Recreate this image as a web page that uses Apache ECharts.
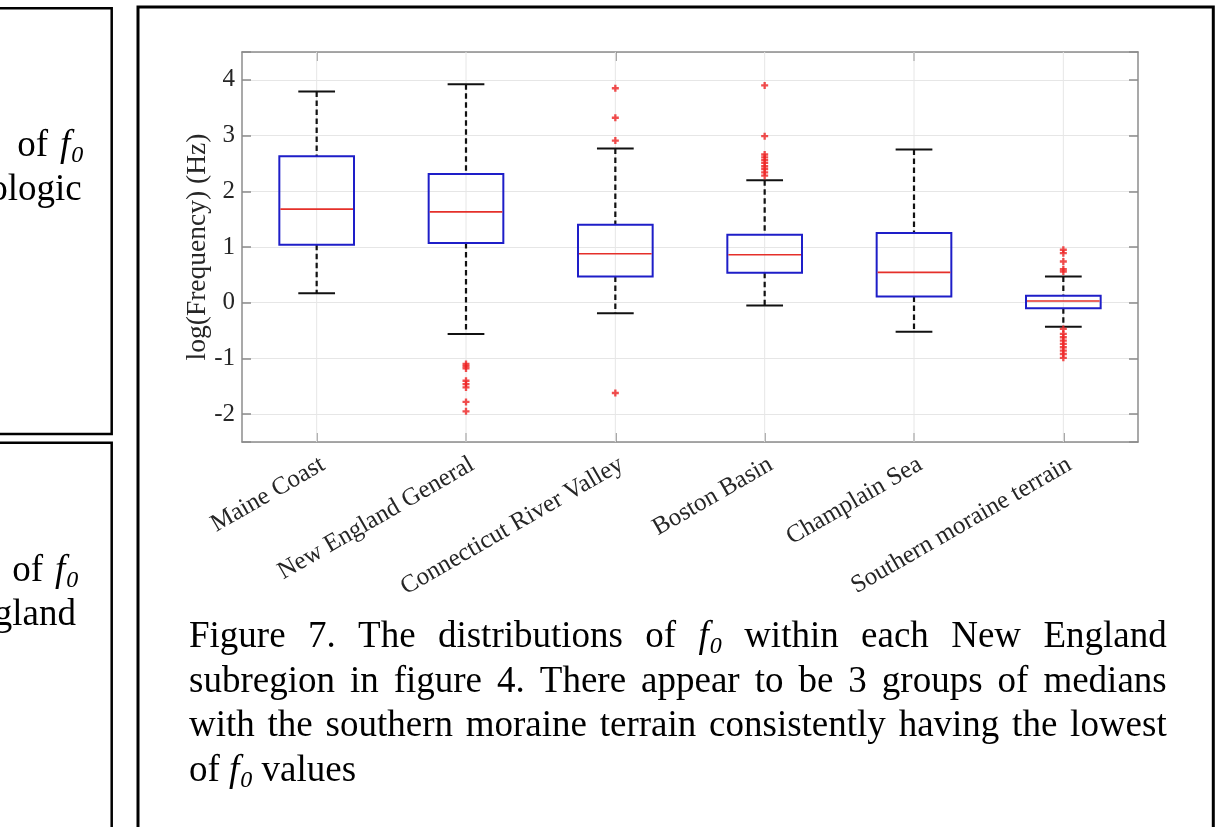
<!DOCTYPE html>
<html><head><meta charset="utf-8">
<script src="https://cdn.jsdelivr.net/npm/echarts@6/dist/echarts.min.js"></script>
<style>html,body{margin:0;padding:0;background:#fff;overflow:hidden}#c{width:1218px;height:827px}</style>
</head><body><div id="c"></div>
<script>
// ---------- data ----------
const categories = ['Maine Coast','New England General','Connecticut River Valley','Boston Basin','Champlain Sea','Southern moraine terrain'];
const lowerWhisker = [0.17, -0.56, -0.19, -0.05, -0.52, -0.43];
const q1          = [1.04, 1.07, 0.47, 0.54, 0.11, -0.10];
const medians     = [1.68, 1.63, 0.88, 0.86, 0.545, 0.03];
const q3          = [2.63, 2.31, 1.40, 1.22, 1.25, 0.125];
const upperWhisker= [3.79, 3.92, 2.77, 2.20, 2.75, 0.47];
const outliers = [
  [],
  [-1.10, -1.14, -1.18, -1.40, -1.46, -1.52, -1.78, -1.95],
  [3.85, 3.32, 2.91, -1.62],
  [3.90, 2.99, 2.66, 2.61, 2.56, 2.51, 2.45, 2.40, 2.34, 2.28],
  [],
  [0.95, 0.89, 0.74, 0.60, 0.56, -0.47, -0.56, -0.62, -0.68, -0.74, -0.80, -0.86, -0.92, -0.99]
];
const yMin = -2.5, yMax = 4.5;
const yAxisTitle = 'log(Frequency) (Hz)';
const captionLines = [
  'Figure 7. The distributions of {f0} within each New England',
  'subregion in figure 4. There appear to be 3 groups of medians',
  'with the southern moraine terrain consistently having the lowest',
  'of {f0} values'
];

// ---------- build ----------
const SERIF = '"Liberation Serif","Times New Roman",serif';
const boxData = categories.map((c, i) => [i, lowerWhisker[i], q1[i], medians[i], q3[i], upperWhisker[i]]);
const outlierData = [];
outliers.forEach((arr, i) => arr.forEach(v => outlierData.push([i, v])));

const ctx = document.createElement('canvas').getContext('2d');
function tw(t, size, italic) { ctx.font = (italic ? 'italic ' : '') + size + 'px "Liberation Serif"'; return ctx.measureText(t).width; }
const FS = 37, SUB = 24;
function tokenWidth(tok) { return tok === '{f0}' ? tw('f', FS, true) + 1 + tw('0', SUB, true) : tw(tok, FS, false); }
function tokenEls(tok, x, yc) {
  if (tok === '{f0}') {
    const fw = tw('f', FS, true);
    return [
      {type:'text', x: x, y: yc, style:{text:'f', fill:'#000', font:'italic ' + FS + 'px ' + SERIF, align:'left', verticalAlign:'middle'}},
      {type:'text', x: x + fw + 1, y: yc + 9, style:{text:'0', fill:'#000', font:'italic ' + SUB + 'px ' + SERIF, align:'left', verticalAlign:'middle'}}
    ];
  }
  return [{type:'text', x: x, y: yc, style:{text: tok, fill:'#000', font: FS + 'px ' + SERIF, align:'left', verticalAlign:'middle'}}];
}
const graphics = [];
// frames
graphics.push({type:'rect', shape:{x:-10, y:8.3, width:121.7, height:425.7}, style:{fill:'none', stroke:'#000', lineWidth:2.5}, z:0});
graphics.push({type:'rect', shape:{x:-10, y:442.7, width:121.7, height:500}, style:{fill:'none', stroke:'#000', lineWidth:2.5}, z:0});
graphics.push({type:'rect', shape:{x:138, y:7, width:1075.3, height:900}, style:{fill:'none', stroke:'#000', lineWidth:3}, z:0});
// caption
const capLeft = 189, capRight = 1166.7, capY0 = 637.7, capPitch = 44.5;
captionLines.forEach((line, li) => {
  const toks = line.split(' ');
  const widths = toks.map(tokenWidth);
  const total = widths.reduce((a, b) => a + b, 0);
  const justify = li < captionLines.length - 1;
  const gap = justify ? (capRight - capLeft - total) / (toks.length - 1) : tw(' ', FS, false);
  let x = capLeft;
  const yc = capY0 + li * capPitch;
  toks.forEach((t, k) => { tokenEls(t, x, yc).forEach(e => graphics.push(e)); x += widths[k] + gap; });
});
// left-column fragments (right aligned)
function rightLine(toks, rightX, yc, gap) {
  const widths = toks.map(tokenWidth);
  let x = rightX;
  for (let k = toks.length - 1; k >= 0; k--) {
    x -= widths[k];
    tokenEls(toks[k], x, yc).forEach(e => graphics.push(e));
    x -= gap;
  }
}
rightLine(['of', '{f0}'], 83.3, 146.7, 12);
rightLine(['ologic'], 81.7, 190.4, 12);
rightLine(['of', '{f0}'], 78.3, 571.7, 12);
rightLine(['gland'], 76, 615.4, 12);

const AX = '#8c8c8c', TXT = '#262626', GRID = '#e6e6e6';
const chart = echarts.init(document.getElementById('c'), null, {renderer:'canvas'});
chart.setOption({
  animation: false,
  backgroundColor: '#fff',
  graphic: graphics,
  grid: {left: 242, top: 52, width: 896, height: 390, containLabel: false},
  xAxis: [
    {type:'category', data: categories, position:'bottom', boundaryGap: true,
     axisLine:{show:true, onZero:false, lineStyle:{color:AX, width:1.5}},
     axisTick:{show:true, inside:true, alignWithLabel:true, length:9, lineStyle:{color:AX, width:1.5}},
     axisLabel:{show:true, interval:0, rotate:30, align:'right', verticalAlign:'top', margin:10,
                fontFamily:SERIF, fontSize:25, color:TXT, hideOverlap:false},
     splitLine:{show:false}},
    {type:'category', data: categories, position:'top', boundaryGap: true,
     axisLine:{show:true, onZero:false, lineStyle:{color:AX, width:1.5}},
     axisTick:{show:true, inside:true, alignWithLabel:true, length:9, lineStyle:{color:AX, width:1.5}},
     axisLabel:{show:false}, splitLine:{show:false}}
  ],
  yAxis: [
    {type:'value', min:yMin, max:yMax, minInterval:1, maxInterval:1, position:'left',
     name: yAxisTitle, nameLocation:'middle', nameRotate:90, nameGap:30, nameMoveOverlap:false,
     nameTextStyle:{fontFamily:SERIF, fontSize:27.5, color:TXT},
     axisLine:{show:true, onZero:false, lineStyle:{color:AX, width:1.5}},
     axisTick:{show:true, inside:true, length:9, lineStyle:{color:AX, width:1.5}},
     axisLabel:{show:true, margin:7, fontFamily:SERIF, fontSize:25, color:TXT,
                formatter: v => (Math.abs(v - Math.round(v)) < 1e-9 ? String(Math.round(v)) : '')},
     splitLine:{show:true, lineStyle:{color:GRID, width:1}}},
    {type:'value', min:yMin, max:yMax, minInterval:1, maxInterval:1, position:'right',
     axisLine:{show:true, onZero:false, lineStyle:{color:AX, width:1.5}},
     axisTick:{show:true, inside:true, length:9, lineStyle:{color:AX, width:1.5}},
     axisLabel:{show:false}, splitLine:{show:false}}
  ],
  series: [
    {type:'custom', xAxisIndex:0, yAxisIndex:0, z:3, data: boxData,
     encode:{x:0, y:[1,2,3,4,5]},
     renderItem: function (params, api) {
       const i = api.value(0);
       const x = api.coord([i, 0])[0];
       const band = api.size([1, 0])[0];
       const bw = band * 0.25, cw = band * 0.123;
       const cs = params.coordSys;
       const yLo = api.coord([i, api.value(1)])[1];
       const yQ1 = api.coord([i, api.value(2)])[1];
       const yMd = api.coord([i, api.value(3)])[1];
       const yQ3 = api.coord([i, api.value(4)])[1];
       const yUp = api.coord([i, api.value(5)])[1];
       const dash = {stroke:'#111', lineWidth:2.2, lineDash:[5.5, 3.5], fill:null};
       const solid = {stroke:'#111', lineWidth:2, fill:null};
       return {type:'group', children:[
         {type:'line', z2:0, shape:{x1:x, y1:cs.y, x2:x, y2:cs.y + cs.height}, style:{stroke:GRID, lineWidth:1}},
         {type:'line', z2:1, shape:{x1:x, y1:yUp, x2:x, y2:yQ3}, style:dash},
         {type:'line', z2:1, shape:{x1:x, y1:yQ1, x2:x, y2:yLo}, style:dash},
         {type:'line', z2:2, shape:{x1:x - cw, y1:yUp, x2:x + cw, y2:yUp}, style:solid},
         {type:'line', z2:2, shape:{x1:x - cw, y1:yLo, x2:x + cw, y2:yLo}, style:solid},
         {type:'rect', z2:3, shape:{x:x - bw, y:yQ3, width:2 * bw, height:yQ1 - yQ3}, style:{stroke:'#1e1ec8', lineWidth:2, fill:null}},
         {type:'line', z2:4, shape:{x1:x - bw + 1, y1:yMd, x2:x + bw - 1, y2:yMd}, style:{stroke:'#e5302a', lineWidth:1.6}}
       ]};
     }},
    {type:'scatter', xAxisIndex:0, yAxisIndex:0, z:4, data: outlierData,
     symbol:'path://M2,0H4V2H6V4H4V6H2V4H0V2H2Z', symbolSize:7,
     itemStyle:{color:'#ee2222'}}
  ]
});
</script></body></html>
